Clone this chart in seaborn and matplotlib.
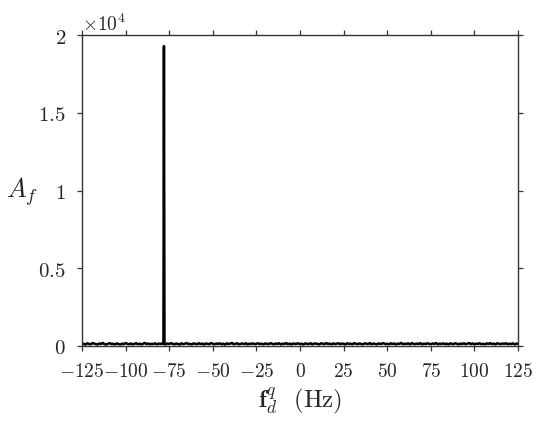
import numpy as np
import pandas as pd
import matplotlib
matplotlib.use("Agg")
import matplotlib.pyplot as plt
import seaborn as sns

# Frequency bins (Hz), 1 Hz resolution, with the narrow tone bin near -78 Hz
freq = (list(range(-125, -78)) + [-78.3, -78.0, -77.7]
        + list(range(-77, 126)))

# Amplitude spectrum: low noise floor, one tone near -78 Hz
amp = [
    110, 140, 85, 170, 130, 100, 185, 150, 120, 90, 160, 130, 195, 110, 95, 150, 175, 120, 140, 100,
    165, 130, 90, 150, 120, 185, 140, 110, 160, 100, 130, 175, 115, 150, 95, 140, 195, 120, 160, 105,
    140, 125, 170, 100, 150, 130, 155,
    120, 19300, 130,
    95, 160, 120, 175, 140, 105, 155, 130, 90, 170, 115, 145, 185,
    120, 135, 100, 165, 140, 110, 175, 125, 150, 95, 160, 135, 115, 185, 140, 100, 155, 130, 170, 110,
    145, 90, 165, 125, 150, 190, 110, 140, 170, 100, 135, 160, 120, 175, 95, 150, 130, 165, 110, 140,
    170, 120, 150, 100, 160, 135, 115, 180, 140, 105, 155, 130, 170, 100, 145, 125, 185, 115, 150, 95,
    160, 130, 140, 170, 110, 150, 90, 165, 135, 120, 175, 105, 145, 160, 125, 100, 170, 140, 115, 185,
    130, 150, 100, 165, 120, 145, 175, 110, 155, 135, 95, 170, 125, 150, 105, 180, 140, 115, 160, 130,
    100, 170, 145, 120, 185, 110, 155, 135, 100, 165, 130, 150, 175, 115, 140, 105, 170, 125, 160, 95,
    150, 135, 195, 110, 145, 125, 165, 100, 175, 140, 115, 155, 130, 180, 100, 150, 120, 170, 140, 110,
    160, 130, 185, 105, 145, 125, 170, 115, 150, 95, 165, 135, 120, 175, 140, 100, 155, 130, 170, 110,
    145, 185, 120, 160, 100, 150, 135, 170, 115, 140, 105, 165, 130, 180, 120, 150, 100, 170, 140, 115,
    160, 130, 175, 110, 145, 125, 165, 95, 155, 135,
]

xticks = [-125, -100, -75, -50, -25, 0, 25, 50, 75, 100, 125]
yticks = [0, 5000, 10000, 15000, 20000]
ytick_labels = ["0", "0.5", "1", "1.5", "2"]

df = pd.DataFrame({"freq": freq, "amp": amp})

sns.set_style("ticks")
plt.rcParams["mathtext.fontset"] = "cm"
plt.rcParams["font.family"] = ["DejaVu Serif"]

fig = plt.figure(figsize=(5.5, 4.31), dpi=100)
ax = fig.add_axes([0.149, 0.195, 0.793, 0.721])

sns.lineplot(data=df, x="freq", y="amp", color="black", linewidth=1.8, ax=ax)

ax.set_xlim(-125, 125)
ax.set_ylim(0, 20000)
ax.set_xticks(xticks)
ax.set_xticklabels([f"${v}$" for v in xticks], fontsize=14)
ax.set_yticks(yticks)
ax.set_yticklabels([f"${v}$" for v in ytick_labels], fontsize=15)

for side in ["top", "right", "left", "bottom"]:
    ax.spines[side].set_visible(True)
    ax.spines[side].set_color("#333333")
    ax.spines[side].set_linewidth(1.0)

ax.tick_params(direction="out", length=3.5, width=0.9, color="#333333",
               top=True, right=True, labeltop=False, labelright=False)
ax.tick_params(axis="x", pad=8)
ax.tick_params(axis="y", pad=8)

ax.text(0.0, 1.005, r"$\times10^{4}$", transform=ax.transAxes, fontsize=14,
        ha="left", va="bottom")

ax.set_xlabel(r"$\mathbf{f}_d^q$  $\mathrm{(Hz)}$", fontsize=18, labelpad=3)
ax.set_ylabel(r"$A_f$", fontsize=19, rotation=0, labelpad=12, va="center")

fig.savefig("out.png", dpi=100)
